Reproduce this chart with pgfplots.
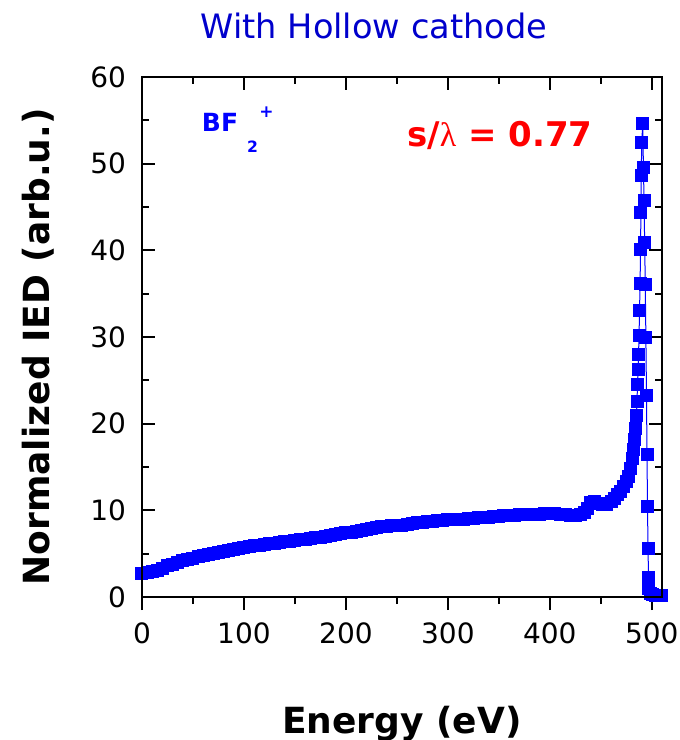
\documentclass[border=0pt]{standalone}
\usepackage{fontspec}
\setmainfont{DejaVu Sans}
\newfontfamily\serifgreek{Liberation Serif}
\usepackage{pgfplots}
\pgfplotsset{compat=1.18}
\usepackage{pgfplotstable}
\definecolor{titleblue}{RGB}{0,0,204}
\definecolor{datablue}{RGB}{0,0,255}
\definecolor{labelred}{RGB}{255,0,0}

\pgfplotstableread{
E y
0 2.7
5 2.8
10 2.9
15 3.1
20 3.3
25 3.6
30 3.8
35 4.0
40 4.2
45 4.35
50 4.5
55 4.65
60 4.8
65 4.95
70 5.05
75 5.15
80 5.25
85 5.35
90 5.45
95 5.55
100 5.7
105 5.8
110 5.9
115 5.98
120 6.05
125 6.12
130 6.2
135 6.28
140 6.35
145 6.42
150 6.5
155 6.58
160 6.65
165 6.75
170 6.82
175 6.9
180 7.0
185 7.1
190 7.2
195 7.3
200 7.4
205 7.5
210 7.6
215 7.7
220 7.8
225 7.9
230 8.0
235 8.1
240 8.15
245 8.2
250 8.25
255 8.3
260 8.4
265 8.5
270 8.55
275 8.6
280 8.7
285 8.75
290 8.8
295 8.85
300 8.9
305 8.95
310 9.0
315 9.0
320 9.05
325 9.1
330 9.15
335 9.2
340 9.2
345 9.25
350 9.3
355 9.35
360 9.4
365 9.45
370 9.5
375 9.5
380 9.55
385 9.55
390 9.55
395 9.6
400 9.6
405 9.6
410 9.55
415 9.5
420 9.45
425 9.45
430 9.5
434 9.7
437 10.2
440 10.9
444 11.0
448 10.8
452 10.7
456 10.7
460 11.0
463 11.4
466 11.8
469 12.2
472 12.7
475 13.3
477 13.9
479 14.8
481 16.0
482 17.0
483 18.2
484 19.5
485 21.0
485.5 22.6
486 24.5
486.5 26.3
487 28.0
487.5 30.2
488 33.1
488.5 36.2
489 40.1
489.3 44.4
489.6 48.6
490.2 52.5
491.1 54.6
491.8 49.6
492.4 45.7
493.0 40.9
493.6 36.1
494.2 30.0
494.8 23.3
495.3 16.5
495.8 10.4
496.3 5.6
496.8 2.3
497.2 1.0
498.5 0.4
501 0.3
504 0.2
510 0.2
}\iedtable

\begin{document}
\begin{tikzpicture}
\begin{axis}[
  scale only axis,
  width=260pt, height=260pt,
  xmin=0, xmax=510, ymin=0, ymax=60,
  xtick={0,100,200,300,400,500},
  ytick={0,10,20,30,40,50,60},
  minor x tick num=1,
  minor y tick num=1,
  xtick pos=bottom,
  xtick align=outside,
  ytick pos=both,
  ytick align=inside,
  major tick length=6.5pt,
  minor tick length=3.5pt,
  every tick/.style={black, line width=1pt},
  axis line style={line width=1.3pt},
  tick label style={font=\fontsize{14}{15}\selectfont},
  /pgf/number format/assume math mode=true,
  yticklabel style={xshift=-4.5pt},
  xticklabel style={yshift=-3pt},
  clip=false,
]
\addplot[color=datablue, line width=0.5pt, mark=square*, mark size=3pt,
  mark options={solid, fill=datablue, draw=datablue}] table[x=E, y=y] {\iedtable};
\end{axis}
\begin{axis}[
  scale only axis,
  width=260pt, height=260pt,
  xmin=0, xmax=510, ymin=0, ymax=60,
  xtick={0,100,200,300,400,500},
  minor x tick num=1,
  xtick pos=top,
  xtick align=inside,
  xticklabels={},
  ytick=\empty,
  major tick length=6.5pt,
  minor tick length=3.5pt,
  every tick/.style={black, line width=1pt},
  axis line style={line width=1.3pt},
]
\end{axis}
% title
\node[anchor=base, text=titleblue, font=\fontsize{16.8}{18}\selectfont] at (116pt,279pt) {With Hollow cathode};
% axis labels
\node[anchor=base, font=\fontsize{18}{20}\selectfont\bfseries] at (130pt,-68pt) {Energy (eV)};
\node[anchor=base, rotate=90, font=\fontsize{18}{20}\selectfont\bfseries] at (-46pt,125pt) {Normalized IED (arb.u.)};
% BF2+
\node[anchor=base west, inner sep=0pt, text=datablue, font=\fontsize{12.5}{14}\selectfont\bfseries] at (29.8pt,232.5pt) {BF};
\node[anchor=base west, inner sep=0pt, text=datablue, font=\fontsize{7.8}{9}\selectfont\bfseries] at (52.3pt,222pt) {2};
\node[anchor=base west, inner sep=0pt, text=datablue, font=\fontsize{8.5}{9}\selectfont\bfseries] at (58.5pt,239.5pt) {+};
% s/lambda
\node[anchor=base west, inner sep=0pt, text=labelred, font=\fontsize{17}{19}\selectfont\bfseries] at (132.4pt,225.2pt) {s/{\serifgreek\mdseries λ} = 0.77};
\pgfresetboundingbox
\path (-71pt,-71.5pt) rectangle (269pt,298.5pt);
\end{tikzpicture}
\end{document}
